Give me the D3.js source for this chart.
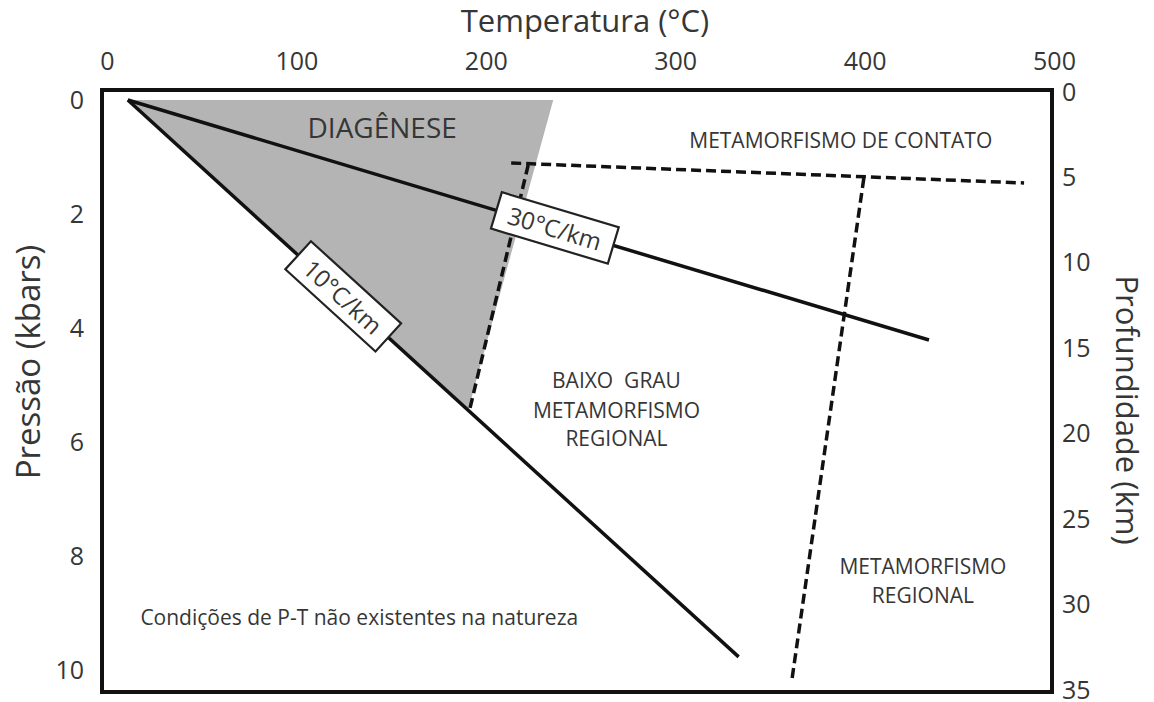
<!DOCTYPE html>
<html>
<head>
<meta charset="utf-8">
<script src="https://cdn.jsdelivr.net/npm/d3@7"></script>
<style>
  html, body { margin: 0; padding: 0; background: #fff; }
  svg { display: block; }
  text { font-family: "Open Sans", "Noto Sans", sans-serif; fill: #363636; white-space: pre; }
</style>
</head>
<body>
<svg id="chart" width="1154" height="702"></svg>
<script>
// ---------- data ----------
const tempTicks = [0, 100, 200, 300, 400, 500];
const pressureTicks = [0, 2, 4, 6, 8, 10];
const depthTicks = [0, 5, 10, 15, 20, 25, 30, 35];

// [temperature °C, pressure kbar]
const geotherm30 = [[11, 0], [434, 4.21]];
const geotherm10 = [[11, 0], [333.5, 9.77]];
const diagenesisArea = [[11, 0], [235.6, 0], [190.7, 5.44]];
const boundaryLowGrade = [[191.7, 5.40], [222.4, 1.14]];
const boundaryContact = [[213.4, 1.105], [484.2, 1.456]];
const boundaryRegional = [[399.6, 1.37], [361.5, 10.2]];

const regionNames = ["DIAGÊNESE", "METAMORFISMO DE CONTATO", "BAIXO  GRAU", "METAMORFISMO", "REGIONAL",
                     "METAMORFISMO", "REGIONAL", "Condições de P-T não existentes na natureza"];
const regionT = [145.3, 387.4, 269, 269, 269, 430.8, 430.8, 133.2];
const regionP = [0.47, 0.70, 4.91, 5.44, 5.93, 8.18, 8.68, 9.07];
const regionSize = [28, 21, 21, 21, 21, 21, 21, 21];

const gradientLabels = ["30°C/km", "10°C/km"];
const gradientPos = [0.533, 0.3526];   // fraction along each geotherm

// ---------- layout ----------
const svg = d3.select("#chart");
const frame = { left: 102, top: 90, right: 1052, bottom: 692 };

const x = d3.scaleLinear().domain([0, 500]).range([107, 1054]);
const y = d3.scaleLinear().domain([0, 10]).range([100, 670]);
const yDepth = d3.scaleLinear().domain([0, 35]).range([92, 690]);

const line = d3.line().x(d => x(d[0])).y(d => y(d[1]));

// diagenesis grey area
svg.append("path")
  .attr("d", line(diagenesisArea) + "Z")
  .attr("fill", "#b4b4b4");

// dashed boundaries
[boundaryLowGrade, boundaryContact, boundaryRegional].forEach(b => {
  svg.append("path")
    .attr("d", line(b))
    .attr("fill", "none")
    .attr("stroke", "#111")
    .attr("stroke-width", 3.5)
    .attr("stroke-dasharray", "10,5");
});

// geotherms
[geotherm30, geotherm10].forEach(g => {
  svg.append("path")
    .attr("d", line(g))
    .attr("fill", "none")
    .attr("stroke", "#111")
    .attr("stroke-width", 3.5);
});

// frame
svg.append("rect")
  .attr("x", frame.left).attr("y", frame.top)
  .attr("width", frame.right - frame.left)
  .attr("height", frame.bottom - frame.top)
  .attr("fill", "none")
  .attr("stroke", "#111")
  .attr("stroke-width", 4);

// gradient boxes
[geotherm30, geotherm10].forEach((g, i) => {
  const x0 = x(g[0][0]), y0 = y(g[0][1]), x1 = x(g[1][0]), y1 = y(g[1][1]);
  const f = gradientPos[i];
  const cx = x0 + (x1 - x0) * f, cy = y0 + (y1 - y0) * f;
  const ang = Math.atan2(y1 - y0, x1 - x0) * 180 / Math.PI;
  const grp = svg.append("g").attr("transform", `translate(${cx},${cy}) rotate(${ang})`);
  grp.append("rect")
    .attr("x", -61).attr("y", -19).attr("width", 122).attr("height", 38)
    .attr("fill", "#fff").attr("stroke", "#222").attr("stroke-width", 2.2);
  grp.append("text")
    .attr("text-anchor", "middle").attr("dominant-baseline", "central")
    .attr("font-size", 24)
    .text(gradientLabels[i]);
});

// region labels
regionNames.forEach((t, i) => {
  svg.append("text")
    .attr("x", x(regionT[i])).attr("y", y(regionP[i]))
    .attr("text-anchor", "middle").attr("dominant-baseline", "central")
    .attr("font-size", regionSize[i])
    .text(t);
});

// axes
const axTop = svg.append("g").attr("transform", `translate(0,${frame.top - 20})`)
  .call(d3.axisTop(x).tickValues(tempTicks).tickSize(0).tickPadding(0));
const axLeft = svg.append("g").attr("transform", `translate(${frame.left - 18},0)`)
  .call(d3.axisLeft(y).tickValues(pressureTicks).tickSize(0).tickPadding(0));
const axRight = svg.append("g").attr("transform", `translate(${frame.right + 10},0)`)
  .call(d3.axisRight(yDepth).tickValues(depthTicks).tickSize(0).tickPadding(0));
[axTop, axLeft, axRight].forEach(a => {
  a.select(".domain").remove();
  a.selectAll("text").attr("font-size", 25).attr("fill", "#363636")
    .style("font-family", '"Open Sans", sans-serif');
});

// axis titles
svg.append("text")
  .attr("x", 585).attr("y", 20)
  .attr("text-anchor", "middle").attr("dominant-baseline", "central")
  .attr("font-size", 31)
  .text("Temperatura (°C)");
svg.append("text")
  .attr("transform", "translate(27,362) rotate(-90)")
  .attr("text-anchor", "middle").attr("dominant-baseline", "central")
  .attr("font-size", 33)
  .text("Pressão (kbars)");
svg.append("text")
  .attr("transform", "translate(1128,410) rotate(90)")
  .attr("text-anchor", "middle").attr("dominant-baseline", "central")
  .attr("font-size", 31)
  .text("Profundidade (km)");
</script>
</body>
</html>
